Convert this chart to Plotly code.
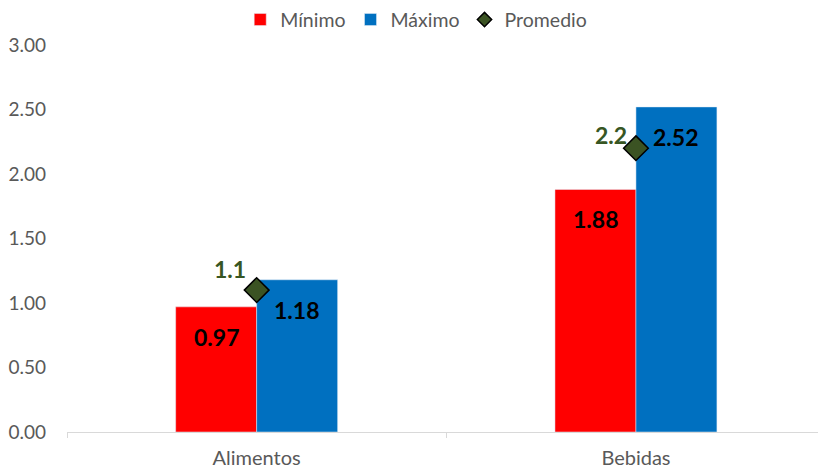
import plotly.graph_objects as go

categories = ["Alimentos", "Bebidas"]
minimo = [0.97, 1.88]
maximo = [1.18, 2.52]
promedio = [1.1, 2.2]
y_ticks = [0, 0.5, 1.0, 1.5, 2.0, 2.5, 3.0]

FONT = "Lato, Open Sans, sans-serif"
RED = "#FF0000"
BLUE = "#0070C0"
GREEN = "#3B5323"
LABEL_GREEN = "#375623"
GRAY = "#595959"

# offsets of the average labels relative to their diamonds
avg_label_shift = [(-27, 21), (-25, 13)]

fig = go.Figure()
fig.add_trace(go.Bar(name="Mínimo", x=categories, y=minimo, marker_color=RED))
fig.add_trace(go.Bar(name="Máximo", x=categories, y=maximo, marker_color=BLUE))
fig.add_trace(go.Scatter(
    name="Promedio", x=categories, y=promedio, mode="markers",
    marker=dict(symbol="diamond", size=19, color=GREEN,
                line=dict(color="black", width=1.5)),
    showlegend=False,
))
# smaller legend swatch for the average marker
fig.add_trace(go.Scatter(
    name="Promedio", x=[None], y=[None], mode="markers",
    marker=dict(symbol="diamond", size=11, color=GREEN,
                line=dict(color="black", width=1.5)),
))

for i, cat in enumerate(categories):
    # value labels placed inside the top of each bar
    for vals, shift in ((minimo, -40), (maximo, 40)):
        fig.add_annotation(
            x=cat, y=vals[i], xshift=shift, yshift=-30, showarrow=False,
            text=f"{vals[i]:.2f}",
            font=dict(family=FONT, size=23, color="black", weight="bold"),
        )
    dx, dy = avg_label_shift[i]
    fig.add_annotation(
        x=cat, y=promedio[i], xshift=dx, yshift=dy, showarrow=False,
        text=f"{promedio[i]:g}",
        font=dict(family=FONT, size=23, color=LABEL_GREEN, weight="bold"),
    )

fig.update_layout(
    width=818, height=468,
    margin=dict(l=67, r=0, t=45, b=36, autoexpand=False),
    paper_bgcolor="white", plot_bgcolor="white",
    barmode="group", bargap=0.573, bargroupgap=0,
    font=dict(family=FONT, color=GRAY, size=20),
    legend=dict(orientation="h", x=0.465, xanchor="center", y=1.065,
                yanchor="middle", font=dict(size=19.5, color=GRAY),
                itemwidth=30, traceorder="normal"),
    showlegend=True,
)
fig.update_xaxes(range=[-0.5, 1.48], showgrid=False, showline=True,
                 linecolor="#D9D9D9", linewidth=1, ticks="outside",
                 tickson="boundaries", tickcolor="#D9D9D9", ticklen=5,
                 ticklabelstandoff=8,
                 tickfont=dict(size=20, color=GRAY))
fig.update_yaxes(range=[0, 3], tickvals=y_ticks, tickformat=".2f",
                 showgrid=False, zeroline=False, showline=False,
                 ticks="", ticklabelstandoff=20,
                 tickfont=dict(size=19, color=GRAY))

fig.write_html("out.html")
